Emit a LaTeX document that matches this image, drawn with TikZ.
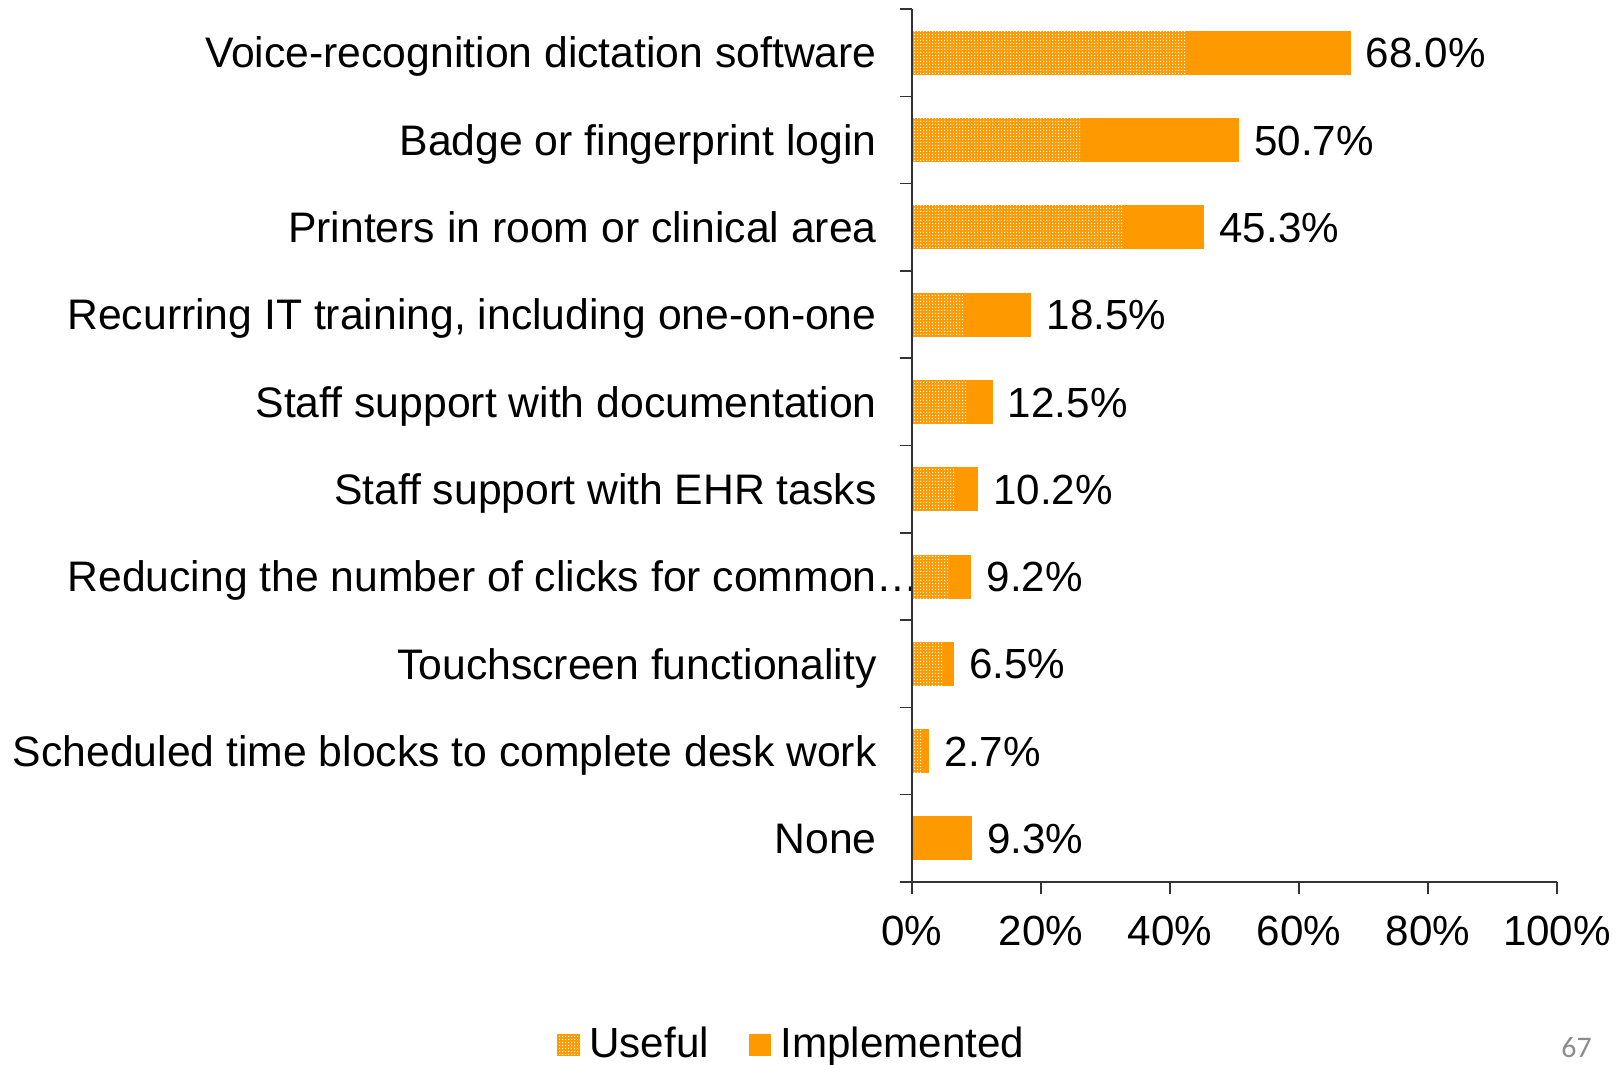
\documentclass[tikz,border=0pt]{standalone}
\usepackage{fontspec}
\setmainfont{Liberation Sans}
\newfontfamily\pagenumfont{Carlito}
\usetikzlibrary{patterns.meta,positioning}
\definecolor{barorange}{RGB}{255,153,0}
\definecolor{pagegray}{RGB}{140,140,140}

\tikzdeclarepattern{
  name=checkdots,
  type=uncolored,
  bounding box={(0pt,0pt) and (1.5pt,1.5pt)},
  tile size={(1.5pt,1.5pt)},
  code={
    \fill (0pt,0pt) rectangle (0.75pt,0.75pt);
  }
}

\begin{document}
\begin{tikzpicture}[x=0.02cm, y=-0.02cm]
    \tikzstyle{cat} = [anchor=east, inner sep=0pt, font=\fontsize{24.3}{28}\selectfont, text height=17.4pt, text depth=0pt]
    \tikzstyle{val} = [inner sep=0pt, font=\fontsize{24}{28}\selectfont, text height=17.2pt, text depth=0pt]
    \tikzstyle{useful} = [fill=barorange, postaction={pattern=checkdots, pattern color=white}]
    \tikzstyle{impl} = [fill=barorange]
    \tikzstyle{axisline} = [line width=0.9pt, draw=black!80]

    \useasboundingbox (0,0) rectangle (1624,1065);

    \node [cat] (c1) at (877,52.7) {Voice-recognition dictation software};
    \node [cat] (c2) at (877,140.0) {Badge or fingerprint login};
    \node [cat] (c3) at (877,227.3) {Printers in room or clinical area};
    \node [cat] (c4) at (877,314.6) {Recurring IT training, including one-on-one};
    \node [cat] (c5) at (877,401.9) {Staff support with documentation};
    \node [cat] (c6) at (877,489.2) {Staff support with EHR tasks};
    \node [cat] (c7) at (877,576.5) {Reducing the number of clicks for common\rlap{…}};
    \node [cat] (c8) at (877,663.8) {Touchscreen functionality};
    \node [cat] (c9) at (877,751.1) {Scheduled time blocks to complete desk work};
    \node [cat] (c10) at (877,838.4) {None};

    \path [useful] (912,30.7) rectangle (912+6.45*42.5,74.7);
    \path [impl] (912+6.45*42.5,30.7) rectangle (912+6.45*68.0,74.7);
    \path [useful] (912,118.0) rectangle (912+6.45*26.4,162.0);
    \path [impl] (912+6.45*26.4,118.0) rectangle (912+6.45*50.7,162.0);
    \path [useful] (912,205.3) rectangle (912+6.45*32.7,249.3);
    \path [impl] (912+6.45*32.7,205.3) rectangle (912+6.45*45.3,249.3);
    \path [useful] (912,292.6) rectangle (912+6.45*7.9,336.6);
    \path [impl] (912+6.45*7.9,292.6) rectangle (912+6.45*18.5,336.6);
    \path [useful] (912,379.9) rectangle (912+6.45*8.5,423.9);
    \path [impl] (912+6.45*8.5,379.9) rectangle (912+6.45*12.5,423.9);
    \path [useful] (912,467.2) rectangle (912+6.45*6.7,511.2);
    \path [impl] (912+6.45*6.7,467.2) rectangle (912+6.45*10.2,511.2);
    \path [useful] (912,554.5) rectangle (912+6.45*5.9,598.5);
    \path [impl] (912+6.45*5.9,554.5) rectangle (912+6.45*9.2,598.5);
    \path [useful] (912,641.8) rectangle (912+6.45*4.8,685.8);
    \path [impl] (912+6.45*4.8,641.8) rectangle (912+6.45*6.5,685.8);
    \path [useful] (912,729.1) rectangle (912+6.45*1.7,773.1);
    \path [impl] (912+6.45*1.7,729.1) rectangle (912+6.45*2.7,773.1);
    \path [impl] (912,816.4) rectangle (912+6.45*9.3,860.4);

    \coordinate (e1) at (912+6.45*68.0,52.7);
    \coordinate (e2) at (912+6.45*50.7,140.0);
    \coordinate (e3) at (912+6.45*45.3,227.3);
    \coordinate (e4) at (912+6.45*18.5,314.6);
    \coordinate (e5) at (912+6.45*12.5,401.9);
    \coordinate (e6) at (912+6.45*10.2,489.2);
    \coordinate (e7) at (912+6.45*9.2,576.5);
    \coordinate (e8) at (912+6.45*6.5,663.8);
    \coordinate (e9) at (912+6.45*2.7,751.1);
    \coordinate (e10) at (912+6.45*9.3,838.4);

    \node [val, right=0.3cm of e1] (v1) {68.0\%};
    \node [val, right=0.3cm of e2] (v2) {50.7\%};
    \node [val, right=0.3cm of e3] (v3) {45.3\%};
    \node [val, right=0.3cm of e4] (v4) {18.5\%};
    \node [val, right=0.3cm of e5] (v5) {12.5\%};
    \node [val, right=0.3cm of e6] (v6) {10.2\%};
    \node [val, right=0.3cm of e7] (v7) {9.2\%};
    \node [val, right=0.3cm of e8] (v8) {6.5\%};
    \node [val, right=0.3cm of e9] (v9) {2.7\%};
    \node [val, right=0.3cm of e10] (v10) {9.3\%};

    \coordinate (ytop) at (912,9);
    \coordinate (origin) at (912,882);
    \coordinate (xend) at (1557,882);
    \draw [axisline] (ytop) -- (origin) -- (xend);
    \draw [axisline] (900,9) -- ++(12,0) (900,96.3) -- ++(12,0) (900,183.6) -- ++(12,0) (900,270.9) -- ++(12,0);
    \draw [axisline] (900,358.2) -- ++(12,0) (900,445.5) -- ++(12,0) (900,532.8) -- ++(12,0) (900,620.1) -- ++(12,0);
    \draw [axisline] (900,707.4) -- ++(12,0) (900,794.7) -- ++(12,0) (900,882) -- ++(12,0);
    \draw [axisline] (912,882) -- ++(0,12) (1041,882) -- ++(0,12) (1170,882) -- ++(0,12);
    \draw [axisline] (1299,882) -- ++(0,12) (1428,882) -- ++(0,12) (1557,882) -- ++(0,12);

    \node [val] (t0) at (912,930.5) {0\%};
    \node [val] (t20) at (1041,930.5) {20\%};
    \node [val] (t40) at (1170,930.5) {40\%};
    \node [val] (t60) at (1299,930.5) {60\%};
    \node [val] (t80) at (1428,930.5) {80\%};
    \node [val] (t100) at (1557,930.5) {100\%};

    \path [useful] (557,1034) rectangle (580,1056);
    \path [impl] (749,1034) rectangle (771,1056);
    \node [val, anchor=west] (lu) at (589,1042) {Useful};
    \node [val, anchor=west] (li) at (780,1042) {Implemented};

    \node [font=\pagenumfont\fontsize{17}{20}\selectfont, text=pagegray, inner sep=0pt] (pg) at (1576.5,1048) {67};
\end{tikzpicture}
\end{document}
